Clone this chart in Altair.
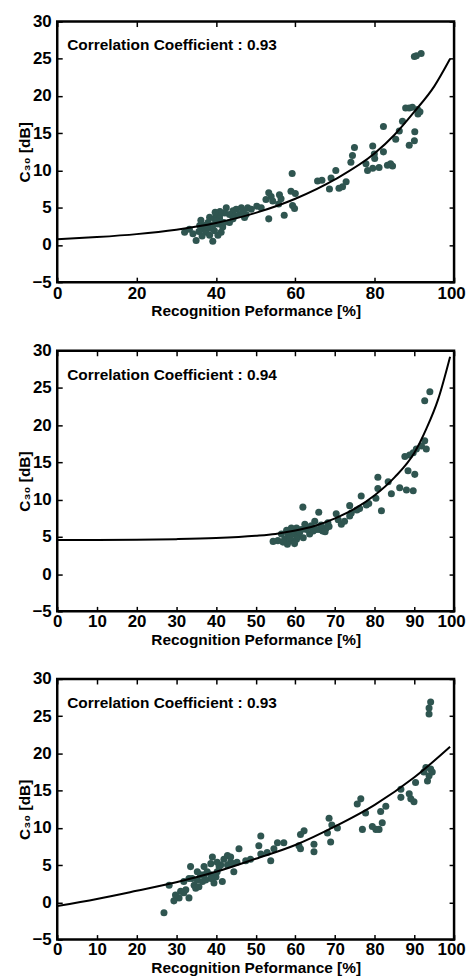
import altair as alt
import pandas as pd

# ---------------- data ----------------
p1_x = [90, 90.5, 91.7, 87.8, 88.7, 89.5, 90.8, 91.4, 90.9, 87, 86.2, 90.1, 90, 88.7, 82.2, 85.3,
        79.5, 79.9, 82.2, 74.9, 74.4, 74, 77.8, 78.2, 79.5, 81.1, 83.2, 84.5, 84.0, 80,
        70.2, 69, 68.6, 71, 72.8, 71.9, 65.6, 66.7, 59.2, 58.9, 60, 59.3, 59.8, 57.2,
        56, 56.4, 55.8, 53.9, 54.3, 52.6, 53.3, 53.3, 51.4, 50.3, 48, 47.6, 47.2, 46.4,
        45.1, 44.3, 43.4, 42.6, 42.2, 43.4, 41.7, 41.3, 40.5, 39.2, 35, 32.1, 33.3, 35.9,
        36.7, 38, 38.4, 39.6, 40.1, 40.9, 37.5, 38.4, 39.6, 40.5, 37.1, 35.7, 39.2, 40.9,
        44.7, 45.9, 46.8, 48.9, 44.3, 40.1, 36.2, 38.9, 41.0, 42.0, 37.8, 39.8, 34.2, 36.5]
p1_y = [25.3, 25.4, 25.7, 18.4, 18.4, 18.5, 18.2, 17.9, 17.6, 16.6, 15.3, 15.2, 14.0, 13.4, 15.9, 14.2,
        13.3, 12.2, 12.5, 13.1, 12.0, 11.1, 10.9, 10.0, 10.3, 10.4, 10.7, 10.6, 10.9, 11.6,
        10.0, 9.0, 7.5, 7.6, 8.5, 7.8, 8.6, 8.7, 9.6, 7.2, 6.9, 5.3, 4.9, 4.0,
        6.75, 6.2, 5.5, 6.5, 5.9, 6.1, 7.0, 3.5, 5.0, 5.2, 5.0, 4.1, 3.7, 5.0,
        4.8, 4.6, 4.1, 5.0, 4.3, 3.0, 2.4, 1.7, 1.3, 0.5, 0.6, 1.7, 2.1, 2.6,
        2.1, 3.0, 3.7, 3.5, 4.1, 3.9, 1.7, 1.3, 1.9, 2.8, 2.6, 1.8, 2.6, 3.5,
        3.9, 4.1, 4.6, 4.8, 3.5, 3.2, 3.3, 2.2, 4.5, 3.0, 2.4, 4.4, 1.5, 1.2]
c1_x = [0, 10, 20, 30, 40, 50, 60, 70, 80, 85, 90, 95, 99]
c1_y = [0.75, 1.05, 1.45, 2.05, 2.95, 4.3, 6.2, 8.8, 12.3, 14.8, 17.9, 21.3, 25.0]

p2_x = [93.9, 92.6, 92.6, 91.8, 93, 90.5, 89.7, 88.8, 87.6, 88.4, 90.1, 86.3, 88, 89.7, 83.4, 84.2,
        80.8, 80.8, 80.3, 81.7, 76.6, 77.9, 76.2, 73.7, 74.1, 73.7, 70.3, 70.8, 71.6, 72.4,
        68.2, 67.8, 66.9, 66.1, 65.9, 61.9, 64.9, 64, 63.6, 62.4, 61.5, 60.3, 59, 59.5, 58.2,
        57.3, 56.5, 55.6, 54.4, 59, 58, 60.3, 60.7, 56.9, 58.6, 61.1, 62.8, 64.5, 65.3, 62,
        59.8, 57.8, 59.3, 60.8, 63.2, 66.5, 67.5, 68.5, 75.5, 78.5]
p2_y = [24.5, 23.3, 17.9, 17.2, 16.8, 16.8, 16.3, 16.0, 15.8, 13.9, 13.4, 11.6, 11.3, 11.2, 12.4, 10.8,
        13.0, 11.5, 10.2, 8.5, 10.5, 9.3, 8.8, 9.2, 8.2, 7.8, 8.1, 7.3, 6.7, 7.1,
        6.9, 6.2, 5.8, 6.0, 8.3, 9.0, 7.1, 6.5, 5.4, 6.7, 6.0, 6.2, 6.2, 5.4, 5.4,
        4.7, 5.4, 4.5, 4.4, 4.5, 4.0, 4.7, 5.1, 4.3, 4.9, 5.6, 6.0, 5.8, 6.0, 4.9,
        4.1, 5.9, 6.0, 5.8, 6.3, 6.6, 5.7, 6.4, 8.6, 9.5]
c2_x = [0, 10, 20, 30, 40, 50, 55, 60, 65, 70, 75, 80, 85, 90, 93, 96, 99]
c2_y = [4.6, 4.6, 4.62, 4.7, 4.85, 5.15, 5.4, 5.85, 6.5, 7.5, 8.8, 10.6, 13.0, 16.3, 19.5, 23.5, 29.2]

p3_x = [94.1, 93.7, 93.7, 92.9, 94.1, 93.7, 93.3, 94.5, 92.4, 90.3, 89.9, 89.1, 88.7, 86.6, 86.6,
        82.8, 81.5, 81.9, 81.1, 80.3, 79.4, 77.7, 76.5, 75.6, 76.9, 70.6, 68.5, 69.2, 68.1, 68.9,
        64.7, 64.7, 62.2, 61.3, 60.9, 61.3, 57.1, 55.5, 54.6, 51.3, 50.8, 51.3, 52.9, 53.8,
        48.7, 47.5, 45.8, 44.5, 43.7, 42, 42.9, 41.2, 41.6, 39.5, 40.3, 38.7, 37.8, 37, 36.1,
        35.3, 34.5, 33.6, 33.2, 32.4, 33.2, 31.1, 30.7, 29.4, 29.8, 28.2, 26.9, 31.9, 35.3,
        37, 38.7, 40, 40.8, 42.9, 44.1, 45.3, 38.7, 36.6, 34.9, 34, 37.4, 40.3, 39.1, 43.7,
        35.7, 31.9]
p3_y = [26.9, 26.1, 25.3, 18.1, 17.9, 17.0, 16.3, 17.5, 17.5, 16.1, 13.5, 13.9, 14.6, 15.2, 14.1,
        12.9, 12.2, 10.7, 9.8, 9.8, 10.2, 12.0, 13.9, 13.2, 9.8, 10.0, 11.3, 10.4, 9.3, 8.1,
        7.8, 6.8, 9.6, 9.1, 7.6, 7.2, 8.0, 8.0, 7.2, 8.9, 7.6, 6.5, 6.7, 5.6,
        5.8, 5.6, 7.2, 4.1, 5.4, 5.8, 6.3, 5.0, 2.8, 2.6, 4.1, 5.2, 4.1, 4.8, 3.7,
        3.0, 2.3, 4.8, 3.2, 1.7, 0.6, 1.5, 0.6, 0.2, 1.0, 2.3, -1.4, 2.8, 4.1,
        3.7, 3.7, 3.4, 4.8, 5.0, 5.2, 5.4, 3.2, 2.8, 1.9, 3.2, 3.0, 5.4, 6.1, 6.1,
        2.1, 1.3]
c3_x = [0, 10, 20, 30, 40, 50, 60, 70, 80, 90, 99]
c3_y = [-0.5, 0.45, 1.55, 2.7, 4.1, 5.85, 7.7, 10.2, 13.1, 16.8, 20.9]

coefs = ["Correlation Coefficient : 0.93", "Correlation Coefficient : 0.94", "Correlation Coefficient : 0.93"]
x_ticks = [[0, 20, 40, 60, 80, 100], list(range(0, 101, 10)), list(range(0, 101, 10))]
y_ticks = [-5, 0, 5, 10, 15, 20, 25, 30]
x_title = "Recognition Peformance [%]"
y_title = "C₃₀ [dB]"

FONT = "Liberation Sans"
DOT = "#2f5550"


def panel(px, py, cx, cy, label, xt, lab_pad, title_pad):
    pts = pd.DataFrame({"x": px, "y": py})
    crv = pd.DataFrame({"x": cx, "y": cy})
    xs = alt.Scale(domain=[0, 100], nice=False, zero=False)
    ys = alt.Scale(domain=[-5, 30], nice=False, zero=False)

    lab_x = alt.Axis(values=xt, ticks=False, domain=False, grid=False, labelFlush=False,
                     labelOverlap=False, labelPadding=lab_pad, title=x_title,
                     titlePadding=title_pad, format="d", minExtent=0,
                     labelOffset=alt.ExprRef(expr="datum.value == 100 ? -3 : 0"))
    lab_y = alt.Axis(values=y_ticks, ticks=False, domain=False, grid=False, labelFlush=False,
                     labelOverlap=False, labelPadding=6, title=y_title, titlePadding=0,
                     format="d", minExtent=0)

    def tick_axis(orient, vals):
        return alt.Axis(orient=orient, values=vals, labels=False, domain=False, grid=False,
                        ticks=True, tickSize=5, offset=-5, tickColor="black", tickWidth=1.5,
                        title=None, minExtent=0, maxExtent=0)

    a = alt.Chart(pts).mark_circle(size=50, color=DOT, opacity=1).encode(
        x=alt.X("x:Q", scale=xs, axis=lab_x),
        y=alt.Y("y:Q", scale=ys, axis=lab_y),
    )
    b = alt.Chart(crv).mark_line(color="black", strokeWidth=2, interpolate="monotone").encode(
        x=alt.X("x:Q", scale=xs, axis=tick_axis("bottom", xt)),
        y=alt.Y("y:Q", scale=ys, axis=tick_axis("left", y_ticks)),
    )
    c = alt.Chart(crv).mark_line(opacity=0).encode(
        x=alt.X("x:Q", scale=xs, axis=tick_axis("top", xt)),
        y=alt.Y("y:Q", scale=ys, axis=tick_axis("right", y_ticks)),
    )
    t = alt.Chart(pd.DataFrame({"t": [label]})).mark_text(
        align="left", baseline="middle", font=FONT, fontWeight="bold", fontSize=15.5, color="black"
    ).encode(x=alt.value(10), y=alt.value(24), text="t:N")
    return alt.layer(a, b, c, t).resolve_axis(x="independent", y="independent").properties(
        width=399, height=262)


chart = alt.vconcat(
    panel(p1_x, p1_y, c1_x, c1_y, coefs[0], x_ticks[0], 3, 3),
    panel(p2_x, p2_y, c2_x, c2_y, coefs[1], x_ticks[1], 2, 3),
    panel(p3_x, p3_y, c3_x, c3_y, coefs[2], x_ticks[2], 2, 3),
    spacing=19,
).properties(
    padding={"left": 7.5, "top": 0, "right": 0, "bottom": 0}
).configure_view(
    stroke="black", strokeWidth=2.5
).configure_axis(
    labelFont=FONT, labelFontWeight="bold", labelFontSize=17, labelColor="black",
    titleFont=FONT, titleFontWeight="bold", titleFontSize=15.5, titleColor="black",
)

chart.save("out.html", embed_options={"renderer": "svg", "actions": False})
